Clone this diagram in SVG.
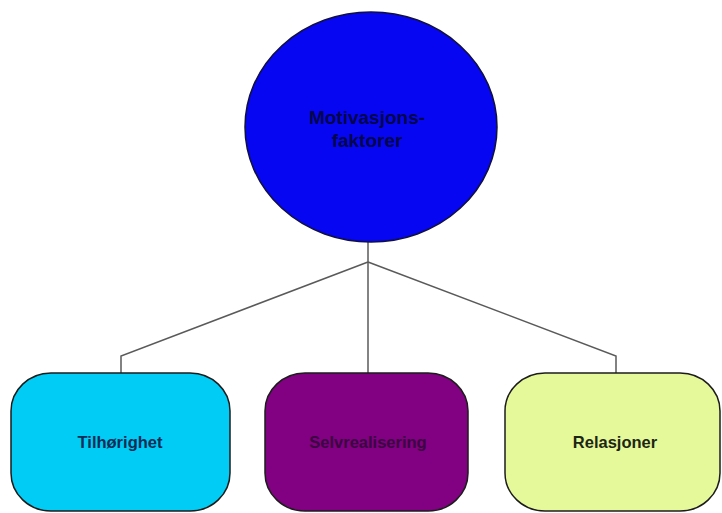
<svg xmlns="http://www.w3.org/2000/svg" width="722" height="513" viewBox="0 0 722 513">
  <style>
    .label { font-family: "Liberation Sans", Arial, sans-serif; font-weight: bold; text-anchor: middle; }
    .box { stroke: #1c1c1c; stroke-width: 1.5; }
    .link { fill: none; stroke: #5a5a5a; stroke-width: 1.5; }
  </style>
  <rect width="722" height="513" fill="#ffffff"/>

  <!-- connectors from the root to the three children -->
  <g id="connectors">
    <path class="link" d="M368,242 V262"/>
    <path class="link" d="M368,262 L121,356 V373"/>
    <path class="link" d="M368,262 V373"/>
    <path class="link" d="M368,262 L616,356 V373"/>
  </g>

  <g id="root">
    <ellipse cx="371" cy="127" rx="126" ry="115" fill="#0606f2" stroke="#101040" stroke-width="1.5"/>
    <text class="label" x="367" y="124" font-size="19" fill="#06064a">Motivasjons-</text>
    <text class="label" x="367" y="147" font-size="19" fill="#06064a">faktorer</text>
  </g>

  <g id="tilhorighet">
    <rect class="box" x="11" y="373" width="219" height="138" rx="40" ry="38" fill="#00ccf5"/>
    <text class="label" x="120" y="448" font-size="16.5" fill="#0a2c55">Tilhørighet</text>
  </g>

  <g id="selvrealisering">
    <rect class="box" x="265" y="373" width="203" height="138" rx="40" ry="38" fill="#820082"/>
    <text class="label" x="368" y="448" font-size="16.5" fill="#3a0540">Selvrealisering</text>
  </g>

  <g id="relasjoner">
    <rect class="box" x="505" y="373" width="215" height="138" rx="40" ry="38" fill="#e6f99a"/>
    <text class="label" x="615" y="448" font-size="16.5" fill="#1c2614">Relasjoner</text>
  </g>
</svg>
